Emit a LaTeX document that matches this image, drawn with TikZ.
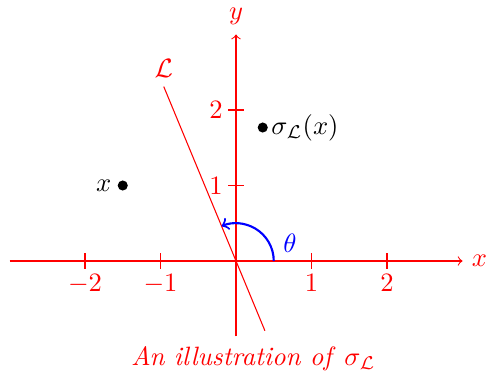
\documentclass[tikz,border=0pt]{standalone}
\usepackage{amsmath}
\begin{document}
\begin{tikzpicture}[x=1cm,y=1cm,
  axis/.style={red,->},
  tickmark/.style={red},
  ticklabel/.style={red,inner sep=2pt},
  dot/.style={circle,fill=black,inner sep=0pt,minimum size=3.8pt},
  refline/.style={red},
  anglearc/.style={blue,thick,->}]
\useasboundingbox (-3.126,-1.483) rectangle (3.311,3.457);
\coordinate (xl) at (-3,0);
\coordinate (xr) at (3,0);
\coordinate (yb) at (0,-1);
\coordinate (yt) at (0,3);
\draw[axis] (xl) -- (xr) node[red,right] (xlab) {$x$};
\draw[axis] (yb) -- (yt) node[red,above] (ylab) {$y$};
\foreach \i/\t in {-2/-2,-1/-1,1/1,2/2} {
  \coordinate (xt\i) at (\i,0.1);
  \coordinate (xb\i) at (\i,-0.1);
  \draw[tickmark] (xt\i) -- (xb\i) node[ticklabel,below] (xn\i) {$\t$};
}
\foreach \i in {1,2} {
  \coordinate (yr\i) at (0.1,\i);
  \coordinate (yl\i) at (-0.1,\i);
  \draw[tickmark] (yr\i) -- (yl\i) node[ticklabel,left] (yn\i) {$\i$};
}
\coordinate (Lb) at (0.383,-0.924);
\coordinate (Lt) at (-0.957,2.310);
\draw[refline] (Lb) -- (Lt) node[red,above] (Llab) {$\mathcal{L}$};
\node[dot] (p) at (-1.5,1) {};
\node[anchor=east, inner sep=2pt] (plab) at (p.west) {$x$};
\node[dot] (q) at (0.354,1.768) {};
\node[anchor=west, inner sep=1pt] (qlab) at (q.east) {$\sigma_{\mathcal{L}}(x)$};
\coordinate (a0) at (0.5,0);
\draw[anglearc] (a0) arc[start angle=0,end angle=112.5,radius=0.5];
\node[blue] (th) at (0.715,0.238) {$\theta$};
\node[red] (cap) at (0.23,-1.30) {\textit{An illustration of} $\sigma_{\mathcal{L}}$};
\end{tikzpicture}
\end{document}
